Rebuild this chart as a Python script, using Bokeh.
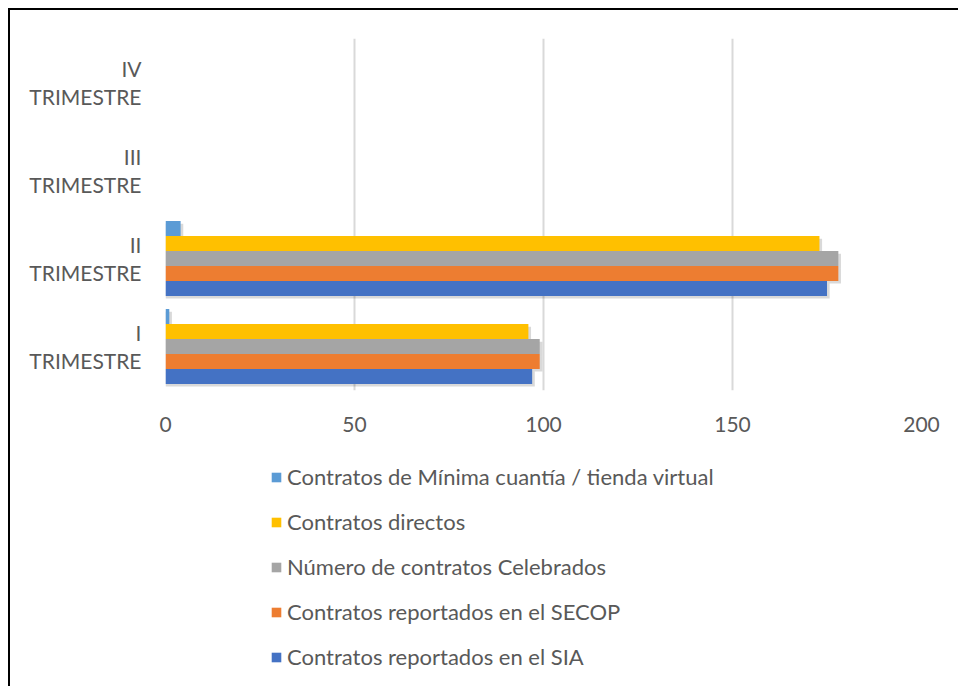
from bokeh.plotting import figure
from bokeh.models import Range1d, FactorRange, Legend, LegendItem, ColumnDataSource, FixedTicker
from bokeh.layouts import column
from bokeh.transform import dodge
from bokeh.embed import file_html
from bokeh.resources import INLINE

categories = ["I\nTRIMESTRE", "II\nTRIMESTRE", "III\nTRIMESTRE", "IV\nTRIMESTRE"]
sia = [97, 175, 0, 0]
secop = [99, 178, 0, 0]
celebrados = [99, 178, 0, 0]
directos = [96, 173, 0, 0]
minima = [1, 4, 0, 0]

series_names = [
    "Contratos reportados en el SIA",
    "Contratos reportados en el SECOP",
    "Número de contratos Celebrados",
    "Contratos directos",
    "Contratos de Mínima cuantía / tienda virtual",
]
series_values = [sia, secop, celebrados, directos, minima]
colors = ["#4472C4", "#ED7D31", "#A5A5A5", "#FFC000", "#5B9BD5"]
x_ticks = [0, 50, 100, 150, 200]

FONT = "Lato"
TXT = "#595959"
FS = "21px"

p = figure(width=948, height=438, y_range=FactorRange(*categories), x_range=Range1d(0, 200),
           output_backend="svg", toolbar_location=None,
           min_border_left=155, min_border_right=37, min_border_top=28, min_border_bottom=58)
p.outline_line_color = None
p.background_fill_color = "white"
p.border_fill_color = "white"

data = {"cat": categories}
for i, v in enumerate(series_values):
    data[f"s{i}"] = v
    data[f"sh{i}"] = [x + 0.7 if x > 0 else 0 for x in v]
src = ColumnDataSource(data)

bh = 0.17
offsets = [-2 * bh, -bh, 0, bh, 2 * bh]

# soft shadows under the bars
for i in range(5):
    p.hbar(y=dodge("cat", offsets[i] - 0.03, range=p.y_range), right=f"sh{i}", left=0, height=bh,
           source=src, fill_color="#000000", fill_alpha=0.15, line_color=None)

for i in range(5):
    p.hbar(y=dodge("cat", offsets[i], range=p.y_range), right=f"s{i}", left=0, height=bh,
           source=src, fill_color=colors[i], line_color=None)

p.xaxis.ticker = FixedTicker(ticks=x_ticks)
p.xaxis.axis_line_color = None
p.xaxis.major_tick_line_color = None
p.xaxis.minor_tick_line_color = None
p.xaxis.major_label_text_font = FONT
p.xaxis.major_label_text_font_size = FS
p.xaxis.major_label_text_color = TXT
p.xaxis.major_label_standoff = 20

p.yaxis.axis_line_color = None
p.yaxis.major_tick_line_color = None
p.yaxis.major_label_text_font = FONT
p.yaxis.major_label_text_font_size = FS
p.yaxis.major_label_text_color = TXT
p.yaxis.major_label_text_align = "center"
p.yaxis.major_label_text_line_height = 1.15
p.yaxis.major_label_standoff = 18

p.xgrid.grid_line_color = "#D9D9D9"
p.xgrid.grid_line_width = 2
p.ygrid.grid_line_color = None

# legend panel (separate figure below the chart)
pl = figure(width=948, height=238, x_range=Range1d(0, 1), y_range=Range1d(0, 1),
            output_backend="svg", toolbar_location=None,
            min_border_left=0, min_border_right=0, min_border_top=0, min_border_bottom=0)
pl.axis.visible = False
pl.grid.grid_line_color = None
pl.outline_line_color = None
pl.background_fill_color = "white"
pl.border_fill_color = "white"
keys = []
for i in range(5):
    # legend swatch holders, placed outside the visible range
    keys.append(pl.hbar(y=[-5], right=[1], left=0, height=0.1, fill_color=colors[i], line_color=None))

items = [LegendItem(label=series_names[i], renderers=[keys[i]]) for i in [4, 3, 2, 1, 0]]
legend = Legend(items=items, location=(105, 16), orientation="vertical",
                label_text_font=FONT, label_text_font_size="22px", label_text_color=TXT,
                glyph_width=12, glyph_height=12, label_standoff=5, spacing=18,
                padding=0, margin=0, border_line_color=None, background_fill_alpha=0)
pl.add_layout(legend, "center")

layout = column(p, pl, spacing=0,
                styles={"border-left": "2px solid #000000", "border-top": "2px solid #000000",
                        "margin-left": "8px", "margin-top": "8px"})

open("out.html", "w").write(file_html(layout, INLINE))
